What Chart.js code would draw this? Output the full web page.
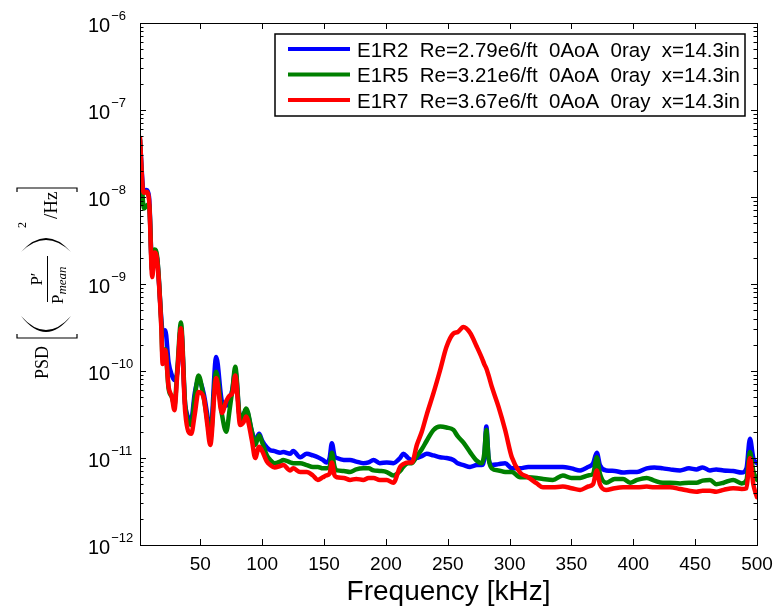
<!DOCTYPE html>
<html>
<head>
<meta charset="utf-8">
<script src="https://cdn.jsdelivr.net/npm/chart.js@4/dist/chart.umd.min.js"></script>
<style>
  html, body { margin: 0; padding: 0; background: #fff; }
  canvas { display: block; }
</style>
</head>
<body>
<canvas id="c" width="778" height="609"></canvas>
<script>
// ---------- DATA ----------
const freq = [
  1.2, 3.6, 4.6, 6.3, 8.5, 11.1, 13, 15, 18.4, 19.5,
  21.6, 24.3, 27, 29, 31.5, 34.3, 37.8, 42.6, 45.5, 48.5,
  52.6, 55.5, 58, 62.8, 67.4, 70.9, 73.6, 76, 78.2, 82.2,
  85, 87, 91.7, 94.3, 97.5, 100, 103.8, 106.5, 110, 114.5,
  117, 122.6, 125, 130.7, 136, 141, 145, 149, 152, 154.5,
  156.3, 158.5, 160.4, 166, 171, 176, 181.7, 186, 190, 195,
  200.7, 206, 211.5, 214, 218, 221, 225, 229, 233, 238.5,
  243.8, 249, 254.6, 258, 262.7, 268, 273.5, 277.6, 279.5, 281.2,
  283, 285.6, 291, 296.4, 301.8, 308.5, 315, 322, 327, 335,
  343, 350, 357, 363.5, 367.5, 370.5, 373, 378, 385, 391.7,
  397.4, 403, 410.8, 417, 424, 429.7, 437.8, 445, 451, 456,
  462, 467, 473, 480.7, 487.6, 491.5, 494.3, 497, 500
];

const psdE1R2 = [
  4.6e-8, 1.26e-8, 1.12e-8, 1.2e-8, 1.0e-8, 1.41e-9, 2.3e-9, 2.0e-9, 4.0e-10, 2.8e-10,
  2.95e-10, 1.26e-10, 8.9e-11, 7.9e-11, 1.0e-10, 3.16e-10, 4.0e-11, 2.8e-11, 5.6e-11, 7.9e-11,
  5.6e-11, 3.2e-11, 1.78e-11, 1.45e-10, 4.5e-11, 4.0e-11, 4.5e-11, 6.3e-11, 1.0e-10, 2.8e-11,
  3.2e-11, 3.55e-11, 2.0e-11, 1.58e-11, 1.9e-11, 1.58e-11, 1.32e-11, 1.23e-11, 1.2e-11, 1.15e-11,
  1.17e-11, 1.12e-11, 1.2e-11, 1.02e-11, 1.12e-11, 1.07e-11, 1.02e-11, 9.5e-12, 8.9e-12, 1.0e-11,
  1.48e-11, 1.05e-11, 1.0e-11, 9.5e-12, 9.5e-12, 9.1e-12, 8.7e-12, 8.9e-12, 9.5e-12, 8.7e-12,
  8.9e-12, 8.7e-12, 1.0e-11, 1.12e-11, 1.0e-11, 9.5e-12, 1.0e-11, 1.05e-11, 1.12e-11, 1.07e-11,
  1.02e-11, 1.0e-11, 9.5e-12, 8.7e-12, 8.3e-12, 7.9e-12, 8.3e-12, 8.3e-12, 1.0e-11, 2.3e-11,
  1.0e-11, 8.3e-12, 8.5e-12, 8.7e-12, 7.6e-12, 7.6e-12, 7.9e-12, 7.9e-12, 7.9e-12, 7.9e-12,
  7.9e-12, 7.6e-12, 7.2e-12, 7.9e-12, 8.7e-12, 1.15e-11, 8.3e-12, 7.2e-12, 7.1e-12, 6.8e-12,
  6.9e-12, 6.9e-12, 7.6e-12, 7.8e-12, 7.6e-12, 7.4e-12, 7.2e-12, 7.6e-12, 7.4e-12, 7.8e-12,
  7.2e-12, 7.4e-12, 7.2e-12, 7.1e-12, 6.8e-12, 7.6e-12, 1.66e-11, 1.0e-11, 8.7e-12
];

const psdE1R5 = [
  4.5e-8, 8.9e-9, 7.4e-9, 7.9e-9, 8.3e-9, 1.41e-9, 2.5e-9, 2.1e-9, 3.5e-10, 1.41e-10,
  1.78e-10, 6.3e-11, 5.0e-11, 4.0e-11, 1.12e-10, 3.6e-10, 4.0e-11, 2.4e-11, 5.0e-11, 8.9e-11,
  5.0e-11, 2.8e-11, 1.66e-11, 9.8e-11, 3.2e-11, 2.0e-11, 3.55e-11, 6.3e-11, 1.12e-10, 2.75e-11,
  3.2e-11, 3.7e-11, 2.0e-11, 1.41e-11, 1.82e-11, 1.5e-11, 1.07e-11, 9.5e-12, 8.7e-12, 9.1e-12,
  9.5e-12, 8.9e-12, 8.7e-12, 8.7e-12, 8.3e-12, 7.9e-12, 7.9e-12, 7.6e-12, 7.6e-12, 7.9e-12,
  1.15e-11, 7.9e-12, 7.2e-12, 7.1e-12, 6.9e-12, 7.4e-12, 7.6e-12, 7.6e-12, 7.2e-12, 7.1e-12,
  6.9e-12, 6.3e-12, 7.1e-12, 7.9e-12, 8.7e-12, 8.7e-12, 1.05e-11, 1.26e-11, 1.58e-11, 2.1e-11,
  2.3e-11, 2.24e-11, 2.1e-11, 1.78e-11, 1.5e-11, 1.17e-11, 9.3e-12, 8.7e-12, 1.12e-11, 2.1e-11,
  1.0e-11, 7.6e-12, 7.2e-12, 6.9e-12, 6.9e-12, 6.0e-12, 6.0e-12, 5.9e-12, 5.75e-12, 5.6e-12,
  6.3e-12, 5.9e-12, 5.9e-12, 6.3e-12, 6.6e-12, 1.02e-11, 6.6e-12, 5.2e-12, 5.75e-12, 5.75e-12,
  5.2e-12, 5.6e-12, 5.9e-12, 5.5e-12, 5.2e-12, 5.2e-12, 5.1e-12, 5.2e-12, 5.2e-12, 5.5e-12,
  5.6e-12, 5.0e-12, 5.2e-12, 5.6e-12, 5.1e-12, 5.6e-12, 1.17e-11, 7.1e-12, 5.6e-12
];

const psdE1R7 = [
  4.8e-8, 1.2e-8, 1.12e-8, 1.15e-8, 9.3e-9, 1.2e-9, 2.3e-9, 1.9e-9, 3.2e-10, 1.2e-10,
  1.74e-10, 6.6e-11, 5.0e-11, 3.55e-11, 1.0e-10, 3.1e-10, 3.3e-11, 1.9e-11, 3.2e-11, 5.75e-11,
  5.0e-11, 2.5e-11, 1.41e-11, 8.3e-11, 3.3e-11, 4.5e-11, 5.2e-11, 5.6e-11, 8.9e-11, 2.4e-11,
  2.6e-11, 3.0e-11, 1.58e-11, 1.0e-11, 1.35e-11, 1.2e-11, 9.1e-12, 8.3e-12, 7.8e-12, 8.1e-12,
  8.3e-12, 7.2e-12, 7.6e-12, 6.9e-12, 6.9e-12, 6.3e-12, 5.6e-12, 6.0e-12, 6.3e-12, 6.6e-12,
  8.9e-12, 6.3e-12, 6.0e-12, 5.9e-12, 5.6e-12, 5.75e-12, 5.6e-12, 5.9e-12, 5.9e-12, 5.6e-12,
  5.6e-12, 5.2e-12, 7.9e-12, 8.5e-12, 8.9e-12, 8.9e-12, 1.41e-11, 2.0e-11, 3.16e-11, 5.6e-11,
  1.02e-10, 1.9e-10, 2.7e-10, 2.8e-10, 3.2e-10, 2.75e-10, 1.9e-10, 1.41e-10, 1.2e-10, 1.07e-10,
  8.9e-11, 6.6e-11, 3.9e-11, 2.1e-11, 1.02e-11, 6.8e-12, 6.0e-12, 5.1e-12, 4.6e-12, 4.6e-12,
  4.7e-12, 4.5e-12, 4.3e-12, 4.7e-12, 5.0e-12, 7.2e-12, 5.0e-12, 4.3e-12, 4.5e-12, 4.6e-12,
  4.6e-12, 4.6e-12, 4.7e-12, 4.6e-12, 4.6e-12, 4.6e-12, 4.4e-12, 4.2e-12, 4.1e-12, 4.2e-12,
  4.2e-12, 4.1e-12, 4.3e-12, 4.5e-12, 4.4e-12, 4.5e-12, 1.0e-11, 5.0e-12, 3.55e-12
];

const seriesLabels = [
  'E1R2  Re=2.79e6/ft  0AoA  0ray  x=14.3in',
  'E1R5  Re=3.21e6/ft  0AoA  0ray  x=14.3in',
  'E1R7  Re=3.67e6/ft  0AoA  0ray  x=14.3in'
];
const seriesColors = ['#0000ff', '#008000', '#ff0000'];

const xTickValues = [50, 100, 150, 200, 250, 300, 350, 400, 450, 500];
const xTickLabels = ['50', '100', '150', '200', '250', '300', '350', '400', '450', '500'];
const yTickValues = [1e-12, 1e-11, 1e-10, 1e-9, 1e-8, 1e-7, 1e-6];
const yTickExponents = ['\u221212', '\u221211', '\u221210', '\u22129', '\u22128', '\u22127', '\u22126'];
const xTitle = 'Frequency [kHz]';

// ---------- CHART ----------
const SANS = '"Liberation Sans", Arial, sans-serif';
const SERIF = '"Liberation Serif", "Times New Roman", serif';

const deco = {
  id: 'deco',
  afterDraw(chart) {
    const ctx = chart.ctx;
    const a = chart.chartArea;
    const xs = chart.scales.x, ys = chart.scales.y;
    ctx.save();
    ctx.strokeStyle = '#000';
    ctx.fillStyle = '#000';
    ctx.lineWidth = 1;
    // axes box
    ctx.strokeRect(Math.round(a.left) + 0.5, Math.round(a.top) + 0.5,
                   Math.round(a.right - a.left), Math.round(a.bottom - a.top));
    // x ticks (inward, top & bottom)
    ctx.beginPath();
    xTickValues.forEach(v => {
      const px = Math.round(xs.getPixelForValue(v)) + 0.5;
      ctx.moveTo(px, a.bottom); ctx.lineTo(px, a.bottom - 6);
      ctx.moveTo(px, a.top); ctx.lineTo(px, a.top + 6);
    });
    // y ticks: major + minor
    yTickValues.forEach((v, i) => {
      const py = Math.round(ys.getPixelForValue(v)) + 0.5;
      ctx.moveTo(a.left, py); ctx.lineTo(a.left + 6, py);
      ctx.moveTo(a.right, py); ctx.lineTo(a.right - 6, py);
      if (i < yTickValues.length - 1) {
        for (let m = 2; m <= 9; m++) {
          const q = Math.round(ys.getPixelForValue(v * m)) + 0.5;
          ctx.moveTo(a.left, q); ctx.lineTo(a.left + 3.5, q);
          ctx.moveTo(a.right, q); ctx.lineTo(a.right - 3.5, q);
        }
      }
    });
    ctx.stroke();

    // x tick labels
    ctx.font = '19px ' + SANS;
    ctx.textAlign = 'center';
    ctx.textBaseline = 'alphabetic';
    xTickValues.forEach((v, i) => {
      ctx.fillText(xTickLabels[i], xs.getPixelForValue(v), a.bottom + 25);
    });
    // x title
    ctx.font = '28px ' + SANS;
    ctx.fillText(xTitle, (a.left + a.right) / 2, 600);

    // y tick labels 10^n
    ctx.textAlign = 'left';
    yTickValues.forEach((v, i) => {
      const py = ys.getPixelForValue(v);
      ctx.font = '20px ' + SANS;
      ctx.fillText('10', 88, py + 8.5);
      const w = ctx.measureText('10').width;
      ctx.font = '13px ' + SANS;
      ctx.fillText(yTickExponents[i], 88 + w + 1, py - 3);
    });

    // legend
    ctx.fillStyle = '#fff';
    ctx.fillRect(275, 34, 470, 82);
    ctx.lineWidth = 1.5;
    ctx.strokeStyle = '#000';
    ctx.strokeRect(275, 34, 470, 82);
    const rows = [49, 74.5, 100];
    seriesLabels.forEach((lab, i) => {
      ctx.strokeStyle = seriesColors[i];
      ctx.lineWidth = 4;
      ctx.beginPath();
      ctx.moveTo(288, rows[i]); ctx.lineTo(350, rows[i]);
      ctx.stroke();
      ctx.fillStyle = '#000';
      ctx.font = '20.5px ' + SANS;
      ctx.textAlign = 'left';
      ctx.fillText(lab, 357, rows[i] + 7.5);
    });

    // y title (math-like, rotated)
    ctx.strokeStyle = '#000';
    ctx.fillStyle = '#000';
    ctx.lineWidth = 1.2;
    ctx.beginPath();
    ctx.moveTo(17, 334); ctx.lineTo(17, 338); ctx.lineTo(77, 338); ctx.lineTo(77, 334);
    ctx.moveTo(17, 192); ctx.lineTo(17, 188); ctx.lineTo(77, 188); ctx.lineTo(77, 192);
    ctx.stroke();
    // parentheses
    ctx.beginPath();
    ctx.moveTo(21, 316); ctx.quadraticCurveTo(46, 348, 71, 316);
    ctx.quadraticCurveTo(46, 344, 21, 316);
    ctx.fill();
    ctx.beginPath();
    ctx.moveTo(21, 252); ctx.quadraticCurveTo(46, 224, 71, 252);
    ctx.quadraticCurveTo(46, 228, 21, 252);
    ctx.fill();
    // fraction bar
    ctx.lineWidth = 1;
    ctx.beginPath();
    ctx.moveTo(47.5, 256); ctx.lineTo(47.5, 302);
    ctx.stroke();

    ctx.save();
    ctx.rotate(-Math.PI / 2); // local (u, v): screen x = v, screen y = -u
    ctx.textAlign = 'left';
    ctx.font = '18px ' + SERIF;
    ctx.fillText('PSD', -379, 48);
    ctx.font = '17px ' + SERIF;
    ctx.textAlign = 'center';
    ctx.fillText('P\u2032', -279, 42);
    ctx.textAlign = 'left';
    ctx.fillText('P', -304, 63);
    const pw = ctx.measureText('P').width;
    ctx.font = 'italic 13px ' + SERIF;
    ctx.fillText('mean', -304 + pw, 66);
    ctx.font = '12px ' + SERIF;
    ctx.fillText('2', -228, 26);
    ctx.font = '19px ' + SERIF;
    ctx.fillText('/Hz', -219, 57);
    ctx.restore();

    ctx.restore();
  }
};

const seriesData = [psdE1R2, psdE1R5, psdE1R7];
new Chart(document.getElementById('c'), {
  type: 'line',
  data: {
    datasets: seriesData.map((vals, i) => ({
      label: seriesLabels[i],
      data: freq.map((f, k) => ({ x: f, y: vals[k] })),
      borderColor: seriesColors[i],
      backgroundColor: seriesColors[i],
      borderWidth: 4.5,
      borderCapStyle: 'round',
      borderJoinStyle: 'round',
      pointRadius: 0,
      fill: false,
      cubicInterpolationMode: 'monotone',
      order: 3 - i
    }))
  },
  options: {
    animation: false,
    responsive: false,
    devicePixelRatio: 1,
    layout: { padding: { top: 23, right: 21, left: 0, bottom: 0 } },
    plugins: { legend: { display: false }, tooltip: { enabled: false } },
    scales: {
      x: {
        type: 'linear', min: 1.2, max: 500,
        ticks: { display: false },
        grid: { display: false, drawTicks: false },
        border: { display: false },
        afterFit(s) { s.height = 64; }
      },
      y: {
        type: 'logarithmic', min: 1e-12, max: 1e-6,
        ticks: { display: false },
        grid: { display: false, drawTicks: false },
        border: { display: false },
        afterFit(s) { s.width = 140; }
      }
    }
  },
  plugins: [deco]
});
</script>
</body>
</html>
